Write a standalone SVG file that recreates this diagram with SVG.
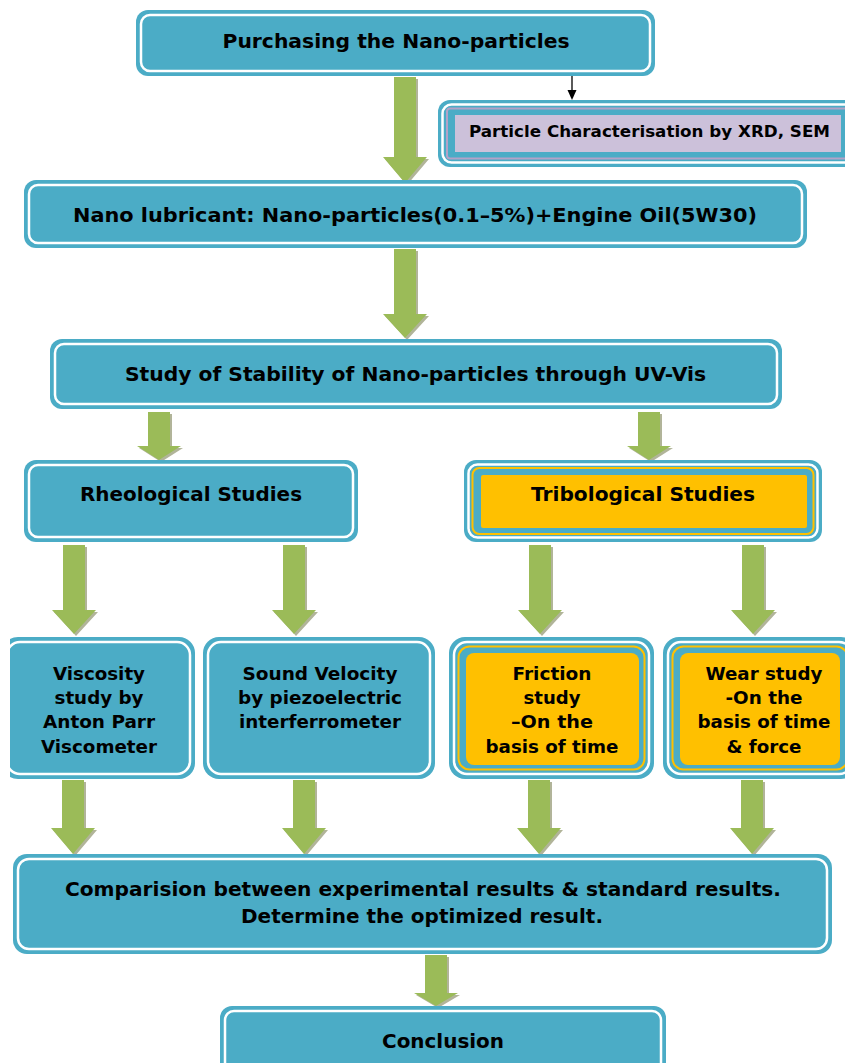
<svg xmlns="http://www.w3.org/2000/svg" width="845" height="1063" viewBox="0 0 845 1063">
<defs>
<style>
.teal{fill:#4BACC6}
.wl{fill:none;stroke:#FFFFFF;stroke-width:2.5}
.yl{fill:none;stroke:#FFC000;stroke-width:2}
.yf{fill:#FFC000}
.ll{fill:none;stroke:#B3A2C7;stroke-width:2}
.lf{fill:#CCC1DA}
.t{font-family:"DejaVu Sans",Verdana,"Liberation Sans",sans-serif;font-weight:bold;fill:#000;text-anchor:middle}
.h{font-size:19px}
.s{font-size:18px}
.arr{fill:#9BBB59;filter:url(#sh)}
</style>
<filter id="sh" x="-20%" y="-10%" width="150%" height="130%">
<feDropShadow dx="2" dy="2" stdDeviation="0.4" flood-color="#A9AC8E" flood-opacity="0.9"/>
</filter>
<clipPath id="clipL"><rect x="10" y="0" width="835" height="1063"/></clipPath>
</defs>
<rect width="845" height="1063" fill="#FFFFFF"/>

<g id="connectors">
<line x1="572" y1="76" x2="572" y2="91" stroke="#000" stroke-width="1.3"/>
<polygon points="567.5,90 576.5,90 572,100" fill="#000"/>
<polygon class="arr" points="394,77 416,77 416,157 427,157 405,183 383,157 394,157"/>
<polygon class="arr" points="394,249 416,249 416,314 427,314 405,338 383,314 394,314"/>
<polygon class="arr" points="148,412 170,412 170,446 181,446 159,460 137,446 148,446"/>
<polygon class="arr" points="638,412 660,412 660,446 671,446 649,460 627,446 638,446"/>
<polygon class="arr" points="63,545 85,545 85,610 96,610 74,634 52,610 63,610"/>
<polygon class="arr" points="283,545 305,545 305,610 316,610 294,634 272,610 283,610"/>
<polygon class="arr" points="529,545 551,545 551,610 562,610 540,634 518,610 529,610"/>
<polygon class="arr" points="742,545 764,545 764,610 775,610 753,634 731,610 742,610"/>
<polygon class="arr" points="62,780 84,780 84,828 95,828 73,854 51,828 62,828"/>
<polygon class="arr" points="293,780 315,780 315,828 326,828 304,854 282,828 293,828"/>
<polygon class="arr" points="528,780 550,780 550,828 561,828 539,854 517,828 528,828"/>
<polygon class="arr" points="741,780 763,780 763,828 774,828 752,854 730,828 741,828"/>
<polygon class="arr" points="425,955 447,955 447,993 458,993 436,1006 414,993 425,993"/>
</g>

<g id="purchasing">
<rect class="teal" x="136" y="10" width="519" height="66" rx="12"/>
<rect class="wl" x="141" y="15" width="509" height="56" rx="9"/>
<text class="t h" x="396" y="48" textLength="347" lengthAdjust="spacingAndGlyphs">Purchasing the Nano-particles</text>
</g>

<g id="characterisation">
<rect class="teal" x="438" y="100" width="420" height="67" rx="12"/>
<rect class="wl" x="442.5" y="104.5" width="411" height="58" rx="9"/>
<rect class="ll" x="447" y="108.5" width="402" height="50" rx="3"/>
<rect class="lf" x="455" y="115" width="386" height="37"/>
<text class="t" x="649.5" y="137" font-size="15" textLength="361" lengthAdjust="spacingAndGlyphs">Particle Characterisation by XRD, SEM</text>
</g>

<g id="nanolubricant">
<rect class="teal" x="24" y="180" width="783" height="68" rx="12"/>
<rect class="wl" x="29" y="185" width="773" height="58" rx="9"/>
<text class="t h" x="415" y="222" textLength="684" lengthAdjust="spacingAndGlyphs">Nano lubricant: Nano-particles(0.1–5%)+Engine Oil(5W30)</text>
</g>

<g id="stability">
<rect class="teal" x="50" y="339" width="732" height="70" rx="12"/>
<rect class="wl" x="55" y="344" width="722" height="60" rx="9"/>
<text class="t h" x="415.5" y="381" textLength="581" lengthAdjust="spacingAndGlyphs">Study of Stability of Nano-particles through UV-Vis</text>
</g>

<g id="rheological">
<rect class="teal" x="24" y="460" width="334" height="82" rx="12"/>
<rect class="wl" x="29" y="465" width="324" height="72" rx="9"/>
<text class="t h" x="191" y="501" textLength="222" lengthAdjust="spacingAndGlyphs">Rheological Studies</text>
</g>

<g id="tribological">
<rect class="teal" x="464" y="460" width="358" height="82" rx="12"/>
<rect class="wl" x="468.5" y="464.5" width="349" height="73" rx="9"/>
<rect class="yl" x="472.5" y="468" width="341" height="66" rx="7"/>
<rect class="yf" x="481" y="475" width="326" height="53" rx="2"/>
<text class="t h" x="643" y="501" textLength="224" lengthAdjust="spacingAndGlyphs">Tribological Studies</text>
</g>

<g id="viscosity">
<g clip-path="url(#clipL)">
<rect class="teal" x="2" y="637" width="193" height="142" rx="16"/>
<rect class="wl" x="7" y="642" width="183" height="132" rx="13"/>
</g>
<text class="t s" x="99" y="680" textLength="92" lengthAdjust="spacingAndGlyphs">Viscosity</text>
<text class="t s" x="99" y="704" textLength="89" lengthAdjust="spacingAndGlyphs">study by</text>
<text class="t s" x="99" y="728" textLength="112" lengthAdjust="spacingAndGlyphs">Anton Parr</text>
<text class="t s" x="99" y="753" textLength="116" lengthAdjust="spacingAndGlyphs">Viscometer</text>
</g>

<g id="sound">
<rect class="teal" x="203" y="637" width="232" height="142" rx="16"/>
<rect class="wl" x="208" y="642" width="222" height="132" rx="13"/>
<text class="t s" x="320" y="680" textLength="155" lengthAdjust="spacingAndGlyphs">Sound Velocity</text>
<text class="t s" x="320" y="704" textLength="164" lengthAdjust="spacingAndGlyphs">by piezoelectric</text>
<text class="t s" x="320" y="728" textLength="162" lengthAdjust="spacingAndGlyphs">interferrometer</text>
</g>

<g id="friction">
<rect class="teal" x="449" y="637" width="205" height="142" rx="16"/>
<rect class="wl" x="454" y="642" width="195" height="132" rx="13"/>
<rect class="yl" x="458.5" y="646.5" width="186" height="123" rx="11"/>
<rect class="yf" x="466" y="653" width="173" height="112" rx="8"/>
<text class="t s" x="552" y="680" textLength="79" lengthAdjust="spacingAndGlyphs">Friction</text>
<text class="t s" x="552" y="704" textLength="57" lengthAdjust="spacingAndGlyphs">study</text>
<text class="t s" x="552" y="728" textLength="82" lengthAdjust="spacingAndGlyphs">–On the</text>
<text class="t s" x="552" y="753" textLength="133" lengthAdjust="spacingAndGlyphs">basis of time</text>
</g>

<g id="wear">
<rect class="teal" x="663" y="637" width="194" height="142" rx="16"/>
<rect class="wl" x="668" y="642" width="184" height="132" rx="13"/>
<rect class="yl" x="672.5" y="646.5" width="175" height="123" rx="11"/>
<rect class="yf" x="680" y="653" width="160" height="112" rx="8"/>
<text class="t s" x="764" y="680" textLength="117" lengthAdjust="spacingAndGlyphs">Wear study</text>
<text class="t s" x="764" y="704" textLength="77" lengthAdjust="spacingAndGlyphs">-On the</text>
<text class="t s" x="764" y="728" textLength="133" lengthAdjust="spacingAndGlyphs">basis of time</text>
<text class="t s" x="764" y="753" textLength="75" lengthAdjust="spacingAndGlyphs">&amp; force</text>
</g>

<g id="comparison">
<rect class="teal" x="13" y="854" width="819" height="100" rx="14"/>
<rect class="wl" x="18" y="859" width="809" height="90" rx="11"/>
<text class="t h" x="423" y="896" textLength="716" lengthAdjust="spacingAndGlyphs">Comparision between experimental results &amp; standard results.</text>
<text class="t h" x="422" y="923" textLength="362" lengthAdjust="spacingAndGlyphs">Determine the optimized result.</text>
</g>

<g id="conclusion">
<rect class="teal" x="220" y="1006" width="446" height="80" rx="12"/>
<rect class="wl" x="225" y="1011" width="436" height="70" rx="9"/>
<text class="t h" x="443" y="1048" textLength="122" lengthAdjust="spacingAndGlyphs">Conclusion</text>
</g>
</svg>
